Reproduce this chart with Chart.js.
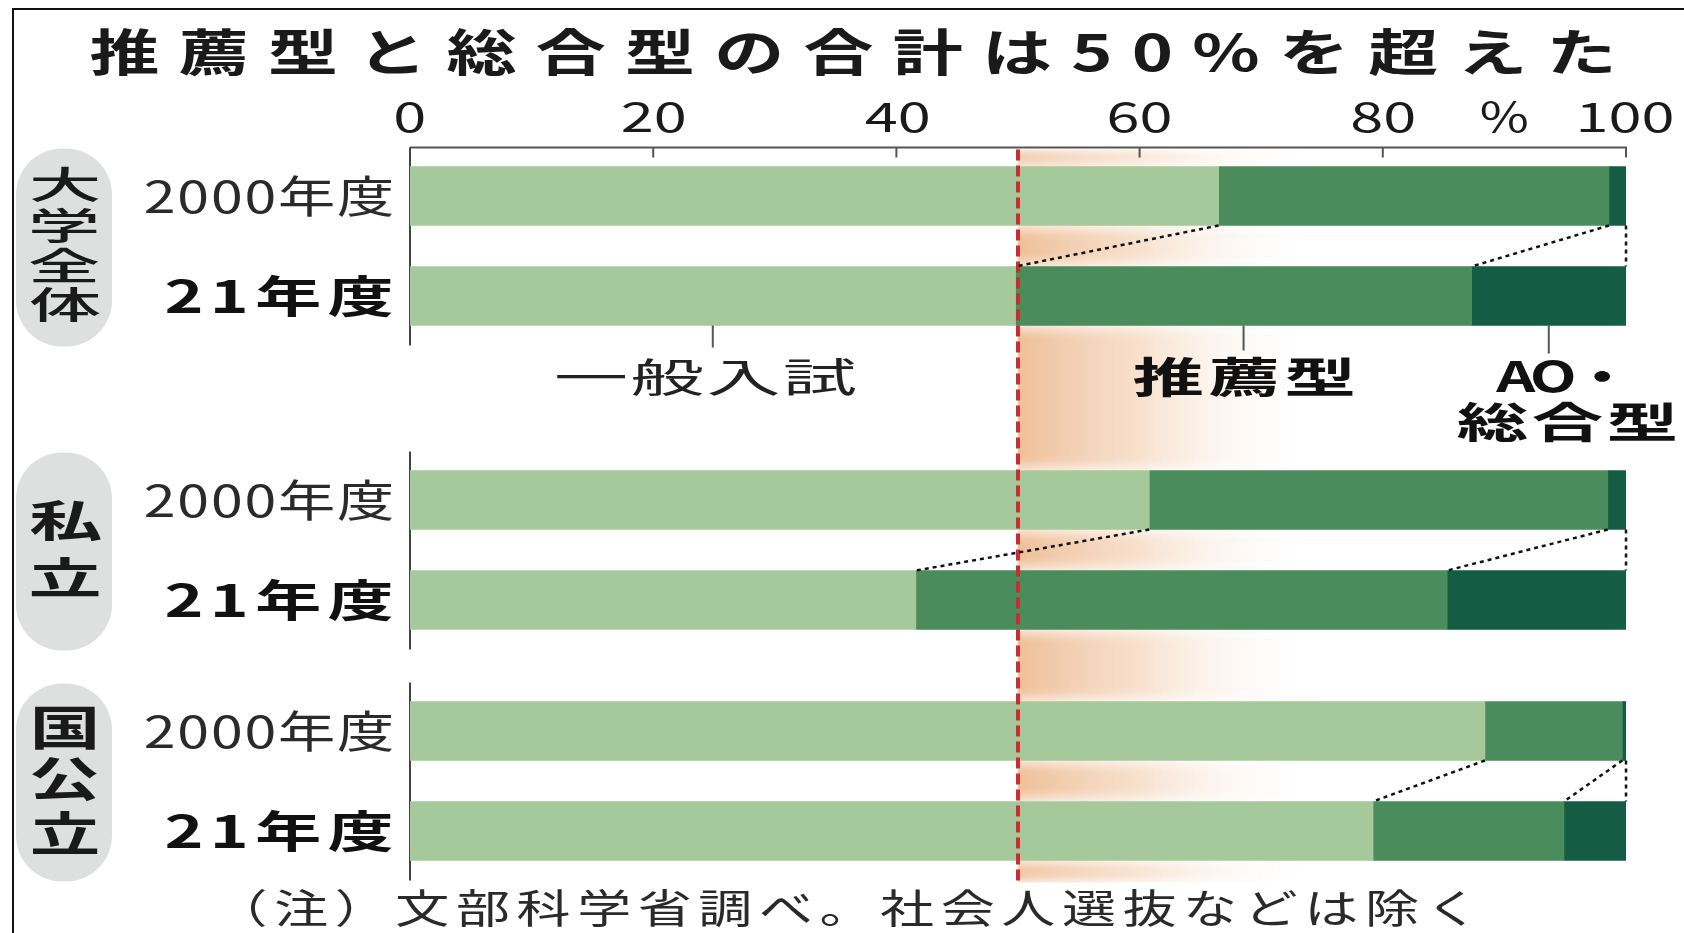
<!DOCTYPE html>
<html>
<head>
<meta charset="utf-8">
<script src="https://cdn.jsdelivr.net/npm/chart.js@4/dist/chart.umd.min.js"></script>
<style>
html,body{margin:0;padding:0;background:#fff;overflow:hidden}
canvas{display:block}
</style>
</head>
<body>
<canvas id="c" width="1684" height="933"></canvas>
<script>
// ---------------- data ----------------
const titleText = '推薦型と総合型の合計は50%を超えた';
const groups = ['大学全体', '私立', '国公立'];
const years = ['2000年度', '21年度'];
const seriesNames = ['一般入試', '推薦型', 'AO・総合型'];
const general   = [66.5, 49.8, 60.8, 41.6, 88.4, 79.2];
const recommend = [32.1, 37.5, 37.7, 43.7, 11.3, 15.7];
const aoSogo    = [1.4, 12.7, 1.5, 14.7, 0.3, 5.1];
const tickValues = [0, 20, 40, 60, 80, 100];
const tickUnit = '%';
const thresholdValue = 50;
const noteText = '（注）文部科学省調べ。社会人選抜などは除く';

// ---------------- layout / style ----------------
const W = 1684, H = 933;
const BAR_H = 59;
const groupOffsets = [0, 3.04, 5.35];
const rowPos = [];
groupOffsets.forEach(o => { rowPos.push(o); rowPos.push(o + 1); });
const colors = ['#a6c99b', '#4b8c5d', '#145c44'];
const JP = '"Noto Sans CJK JP", "Noto Sans", sans-serif';

function inkText(ctx, text, opt) {
  ctx.save();
  ctx.font = `${opt.weight || 'normal'} ${opt.size}px ${opt.family || JP}`;
  if ('letterSpacing' in ctx) ctx.letterSpacing = '0px';
  const m = ctx.measureText(text);
  const ink0 = m.actualBoundingBoxLeft + m.actualBoundingBoxRight;
  const n = Array.from(text).length;
  const sx = opt.sx || 1;
  let sp = 0, x0;
  if (opt.x0 !== undefined) {
    sp = n > 1 ? ((opt.x1 - opt.x0) / sx - ink0) / (n - 1) : 0;
    x0 = opt.x0;
    if (n === 1) x0 = (opt.x0 + opt.x1) / 2 - ink0 * sx / 2;
  } else {
    x0 = opt.cx - ink0 * sx / 2;
  }
  if ('letterSpacing' in ctx) ctx.letterSpacing = sp + 'px';
  const base = opt.cy + (m.actualBoundingBoxAscent - m.actualBoundingBoxDescent) / 2;
  ctx.translate(x0, base);
  ctx.scale(sx, 1);
  ctx.fillStyle = opt.color || '#111';
  ctx.textAlign = 'left';
  ctx.textBaseline = 'alphabetic';
  ctx.fillText(text, m.actualBoundingBoxLeft, 0);
  ctx.restore();
}

const overlay = {
  id: 'overlay',
  beforeDraw(chart) {
    const ctx = chart.ctx;
    ctx.save();
    ctx.fillStyle = '#fff';
    ctx.fillRect(0, 0, W, H);
    ctx.restore();
  },
  beforeDatasetsDraw(chart) {
    const ctx = chart.ctx, xs = chart.scales.x, ys = chart.scales.y;
    const top = i => ys.getPixelForValue(rowPos[i]) - BAR_H / 2;
    const bot = i => ys.getPixelForValue(rowPos[i]) + BAR_H / 2;
    const axisY = top(0) - 19;
    const lastBot = bot(rowPos.length - 1) + 20;
    ctx.save();
    // pills
    groups.forEach((g, gi) => {
      const t = top(gi * 2) - 18, b = bot(gi * 2 + 1) + 21;
      ctx.fillStyle = '#dedfdf';
      ctx.beginPath();
      ctx.roundRect(16, t, 96, b - t, 46);
      ctx.fill();
    });
    // peach band right of threshold
    const bx0 = xs.getPixelForValue(thresholdValue);
    const bx1 = bx0 + 300;
    ctx.save();
    ctx.beginPath();
    ctx.rect(bx0, axisY + 2, W, lastBot - axisY);
    ctx.clip();
    ctx.filter = 'blur(6px)';
    const grad = ctx.createLinearGradient(bx0, 0, bx1, 0);
    grad.addColorStop(0, 'rgba(236,180,134,0.85)');
    grad.addColorStop(0.4, 'rgba(242,204,172,0.6)');
    grad.addColorStop(1, 'rgba(255,255,255,0)');
    ctx.fillStyle = grad;
    ctx.fillRect(bx0 - 20, axisY + 4, bx1 - bx0 + 20, lastBot - axisY - 4);
    ctx.fillStyle = 'rgba(255,255,255,0.75)';
    rowPos.forEach((p, i) => {
      ctx.fillRect(bx0 - 20, top(i) - 4, bx1 - bx0 + 60, BAR_H + 8);
    });
    ctx.restore();
    // top axis
    ctx.strokeStyle = '#555';
    ctx.lineWidth = 2;
    ctx.beginPath();
    ctx.moveTo(xs.getPixelForValue(0), axisY);
    ctx.lineTo(xs.getPixelForValue(100) + 1, axisY);
    tickValues.forEach(v => {
      const px = xs.getPixelForValue(v);
      ctx.moveTo(px, axisY);
      ctx.lineTo(px, axisY + 10);
    });
    ctx.stroke();
    // group left lines
    ctx.strokeStyle = '#444';
    groups.forEach((g, gi) => {
      const t = gi === 0 ? axisY : top(gi * 2) - 19;
      const b = bot(gi * 2 + 1) + 20;
      ctx.beginPath();
      ctx.moveTo(xs.getPixelForValue(0), t);
      ctx.lineTo(xs.getPixelForValue(0), b);
      ctx.stroke();
    });
    ctx.restore();
  },
  afterDatasetsDraw(chart) {
    const ctx = chart.ctx, xs = chart.scales.x, ys = chart.scales.y;
    const top = i => ys.getPixelForValue(rowPos[i]) - BAR_H / 2;
    const bot = i => ys.getPixelForValue(rowPos[i]) + BAR_H / 2;
    const mid = i => ys.getPixelForValue(rowPos[i]);
    const axisY = top(0) - 19;
    const lastBot = bot(rowPos.length - 1) + 20;
    ctx.save();
    // threshold dashed line
    const tx = xs.getPixelForValue(thresholdValue);
    ctx.strokeStyle = '#cf2a2e';
    ctx.lineWidth = 4;
    ctx.setLineDash([11, 5]);
    ctx.beginPath();
    ctx.moveTo(tx, axisY + 2);
    ctx.lineTo(tx, lastBot);
    ctx.stroke();
    // dotted connectors
    ctx.strokeStyle = '#111';
    ctx.lineWidth = 2.5;
    ctx.setLineDash([4, 4]);
    groups.forEach((g, gi) => {
      const a = gi * 2, b = gi * 2 + 1;
      const ca = [general[a], general[a] + recommend[a], 100];
      const cb = [general[b], general[b] + recommend[b], 100];
      for (let k = 0; k < 3; k++) {
        ctx.beginPath();
        ctx.moveTo(xs.getPixelForValue(ca[k]), bot(a));
        ctx.lineTo(xs.getPixelForValue(cb[k]), top(b));
        ctx.stroke();
      }
    });
    ctx.setLineDash([]);
    // legend leader lines
    const li = 1;
    const segMid = [general[li] / 2, general[li] + recommend[li] / 2, general[li] + recommend[li] + aoSogo[li] / 2];
    ctx.strokeStyle = '#555';
    ctx.lineWidth = 2;
    const leadX = segMid.map(v => xs.getPixelForValue(v));
    leadX.forEach((px, k) => {
      ctx.beginPath();
      ctx.moveTo(px, bot(li));
      ctx.lineTo(px, bot(li) + 22 + k * 3);
      ctx.stroke();
    });
    // legend labels
    const legY = bot(li) + 51;
    inkText(ctx, seriesNames[0], {x0: leadX[0] - 157, x1: leadX[0] + 144, cy: legY, size: 40, weight: 'normal', sx: 1.85, color: '#222'});
    inkText(ctx, seriesNames[1], {x0: leadX[1] - 111, x1: leadX[1] + 109, cy: legY, size: 42, weight: 'bold', sx: 1.7, color: '#111'});
    const aoParts = seriesNames[2].split('・');
    inkText(ctx, aoParts[0] + '・', {x0: leadX[2] - 54, x1: leadX[2] + 62, cy: legY, size: 42, weight: 'bold', sx: 1.45, color: '#111'});
    inkText(ctx, aoParts[1], {x0: leadX[2] - 92, x1: leadX[2] + 126, cy: legY + 45, size: 42, weight: 'bold', sx: 1.7, color: '#111'});

    // title
    inkText(ctx, titleText, {x0: 91, x1: 1611, cy: 52, size: 50, weight: 'bold', sx: 1.4, color: '#1a1a1a'});
    // tick labels
    tickValues.forEach(v => {
      inkText(ctx, String(v), {cx: xs.getPixelForValue(v), cy: 117, size: 41, weight: 'normal', sx: 1.45, color: '#1a1a1a'});
    });
    inkText(ctx, tickUnit, {cx: xs.getPixelForValue(90), cy: 117, size: 41, weight: 'normal', sx: 1.3, color: '#1a1a1a'});
    // category labels
    rowPos.forEach((p, i) => {
      if (i % 2 === 0) {
        inkText(ctx, years[0], {x0: 145, x1: 393, cy: mid(i), size: 44, weight: 'normal', sx: 1.3, color: '#2a2a2a'});
      } else {
        inkText(ctx, years[1], {x0: 166, x1: 392, cy: mid(i), size: 44, weight: 'bold', sx: 1.5, color: '#111'});
      }
    });
    // group labels (vertical)
    const gSize = [37, 43, 47], gSx = [1.95, 1.7, 1.5], gStep = [40, 56, 52], gWeight = ['500', 'bold', 'bold'];
    groups.forEach((g, gi) => {
      const t = top(gi * 2) - 18, b = bot(gi * 2 + 1) + 21;
      const c = (t + b) / 2 - 3;
      const chars = Array.from(g);
      chars.forEach((ch, k) => {
        const cy = c + (k - (chars.length - 1) / 2) * gStep[gi];
        inkText(ctx, ch, {cx: 65, cy: cy, size: gSize[gi], weight: gWeight[gi], sx: gSx[gi], color: '#1a1a1a'});
      });
    });
    // note
    inkText(ctx, noteText, {x0: 250, x1: 1466, cy: 908, size: 40, weight: 'normal', sx: 1.35, color: '#2a2a2a'});
    // frame
    ctx.strokeStyle = '#111';
    ctx.lineWidth = 2;
    ctx.beginPath();
    ctx.moveTo(13, H);
    ctx.lineTo(13, 9);
    ctx.lineTo(W, 9);
    ctx.stroke();
    ctx.restore();
  }
};

const mk = (arr) => rowPos.map((p, i) => ({x: arr[i], y: p}));

new Chart(document.getElementById('c').getContext('2d'), {
  type: 'bar',
  data: {
    datasets: [
      {label: seriesNames[0], data: mk(general), backgroundColor: colors[0]},
      {label: seriesNames[1], data: mk(recommend), backgroundColor: colors[1]},
      {label: seriesNames[2], data: mk(aoSogo), backgroundColor: colors[2]}
    ]
  },
  options: {
    responsive: false,
    animation: false,
    devicePixelRatio: 1,
    indexAxis: 'y',
    layout: {padding: {left: 410, right: 58, top: 0, bottom: 0}},
    datasets: {bar: {barThickness: BAR_H, borderWidth: 0}},
    scales: {
      x: {type: 'linear', min: 0, max: 100, stacked: true, display: false, offset: false},
      y: {type: 'linear', min: -1.96, max: 7.37, reverse: true, stacked: true, display: false, offset: false, grid: {offset: false}}
    },
    plugins: {legend: {display: false}, tooltip: {enabled: false}, title: {display: false}}
  },
  plugins: [overlay]
});
</script>
</body>
</html>
